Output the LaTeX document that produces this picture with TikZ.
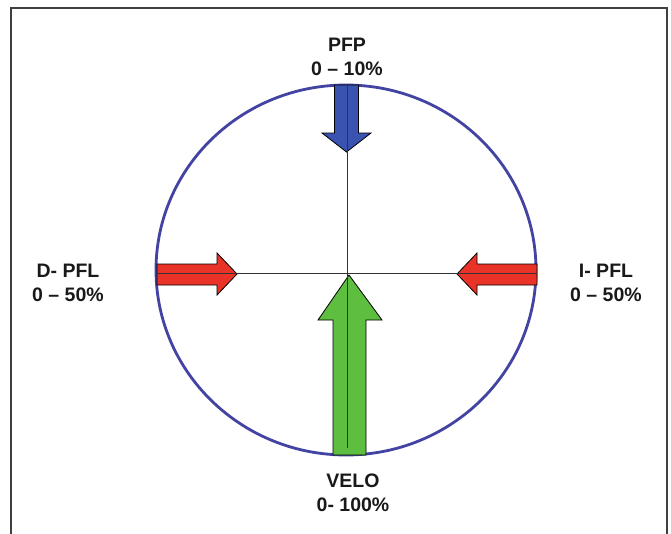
\documentclass[tikz,border=0pt]{standalone}
\usepackage{fontspec}
\setmainfont{Liberation Sans}
\begin{document}
\begin{tikzpicture}[x=1pt,y=-1pt,
  lbl/.style={font=\fontsize{19.5}{24}\selectfont\bfseries, align=center, text=black!90, inner sep=0pt},
  arrowshape/.style={draw=black, line width=0.8pt, line join=miter},
  axis/.style={draw=black!80, line width=0.7pt}]
\definecolor{ringblue}{HTML}{4343A3}
\definecolor{arrblue}{HTML}{3A52B0}
\definecolor{arrred}{HTML}{EA3328}
\definecolor{arrgreen}{HTML}{5DBE3F}
\useasboundingbox (0,0) rectangle (671,533);
\fill[white] (0,0) rectangle (671,533);
% frame
\draw[black!75, line width=2pt] (11,540) -- (11,8) -- (667,8) -- (667,540);
% ring
\draw[ringblue, line width=2.8pt] (346,270) ellipse [x radius=190, y radius=185];
% arrows
\path[arrowshape, fill=arrblue] (334.5,85) -- (358.5,85) -- (358.5,133) -- (371,133) -- (346.5,152) -- (322,133) -- (334.5,133) -- cycle;
\path[arrowshape, fill=arrgreen] (333,455) -- (366,455) -- (366,320) -- (382,320) -- (349,275) -- (318,320) -- (333,320) -- cycle;
\path[arrowshape, fill=arrred] (157,264) -- (217,264) -- (217,253) -- (237,274) -- (217,295) -- (217,285) -- (157,285) -- cycle;
\path[arrowshape, fill=arrred] (537,264) -- (477,264) -- (477,253) -- (457,274) -- (477,295) -- (477,285) -- (537,285) -- cycle;
% axes
\coordinate (top) at (347,85);
\coordinate (bot) at (347,448);
\coordinate (lft) at (157,273);
\coordinate (rgt) at (537,273);
\draw[axis] (top) -- (bot);
\draw[axis] (lft) -- (rgt);
% labels
\node[lbl] (pfp) at (347,57) {PFP\\0 -- 10\%};
\node[lbl] (dpfl) at (68,283) {D- PFL\\0 -- 50\%};
\node[lbl] (ipfl) at (606,283) {I- PFL\\0 -- 50\%};
\node[lbl] (velo) at (353,493) {VELO\\0- 100\%};
\end{tikzpicture}
\end{document}
